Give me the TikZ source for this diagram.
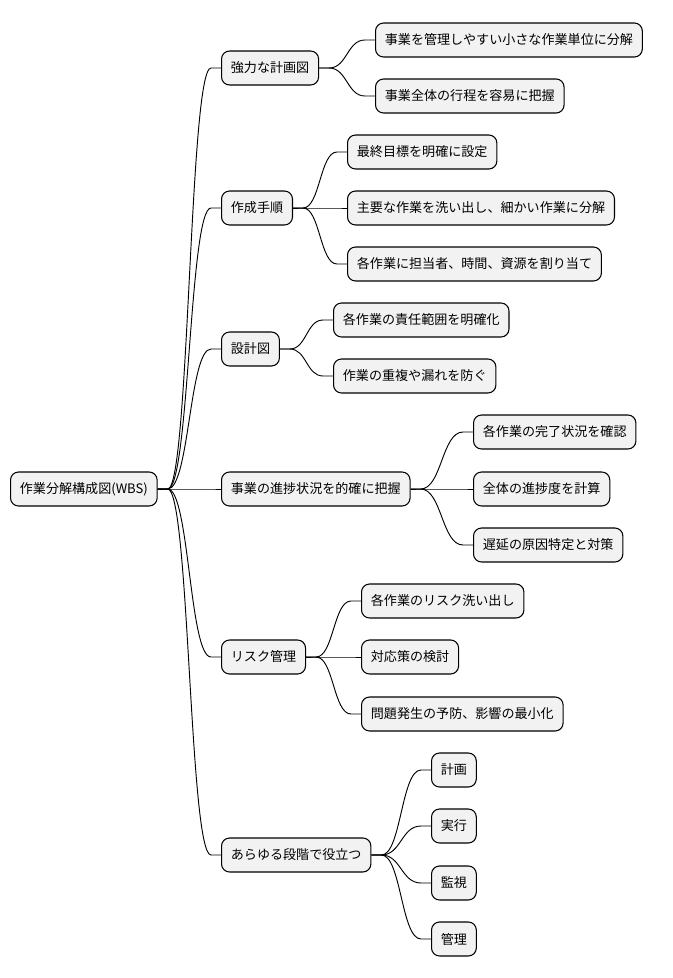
\documentclass[tikz,border=0pt]{standalone}
\usepackage{fontspec}
\setmainfont{Noto Sans CJK JP}
\usetikzlibrary{calc}
\begin{document}
\begin{tikzpicture}[x=0.75pt,y=-0.75pt,
  box/.style={draw=black,fill=black!5,rounded corners=6pt,line width=0.8pt,anchor=west,
    inner xsep=7pt,minimum height=25.5pt,font=\fontsize{9.8pt}{12pt}\selectfont},
  lk/.style={line width=0.7pt}]
\useasboundingbox (0,0) rectangle (672,978);
\node[box] (r) at (10,489) {作業分解構成図(WBS)};
\node[box] (a) at (221,68) {強力な計画図};
\node[box] (b) at (221,208) {作成手順};
\node[box] (c) at (221,349) {設計図};
\node[box] (d) at (221,489) {事業の進捗状況を的確に把握};
\node[box] (e) at (221,657) {リスク管理};
\node[box] (f) at (221,855) {あらゆる段階で役立つ};
\node[box] (a1) at (375,40) {事業を管理しやすい小さな作業単位に分解};
\node[box] (a2) at (375,96) {事業全体の行程を容易に把握};
\node[box] (b1) at (347,152) {最終目標を明確に設定};
\node[box] (b2) at (347,208) {主要な作業を洗い出し、細かい作業に分解};
\node[box] (b3) at (347,264) {各作業に担当者、時間、資源を割り当て};
\node[box] (c1) at (333,320) {各作業の責任範囲を明確化};
\node[box] (c2) at (333,376) {作業の重複や漏れを防ぐ};
\node[box] (d1) at (473,432) {各作業の完了状況を確認};
\node[box] (d2) at (473,489) {全体の進捗度を計算};
\node[box] (d3) at (473,545) {遅延の原因特定と対策};
\node[box] (e1) at (361,601) {各作業のリスク洗い出し};
\node[box] (e2) at (361,657) {対応策の検討};
\node[box] (e3) at (361,714) {問題発生の予防、影響の最小化};
\node[box] (f1) at (431,770) {計画};
\node[box] (f2) at (431,826) {実行};
\node[box] (f3) at (431,883) {監視};
\node[box] (f4) at (431,939) {管理};
\foreach \p/\q in {r/a,r/b,r/c,r/d,r/e,r/f,a/a1,a/a2,b/b1,b/b2,b/b3,c/c1,c/c2,d/d1,d/d2,d/d3,e/e1,e/e2,e/e3,f/f1,f/f2,f/f3,f/f4}{
  \coordinate (s) at ($(\p.east)+(10,0)$);
  \coordinate (t) at ($(\q.west)+(-10,0)$);
  \coordinate (m1) at ($(s)!0.5!(t)$);
  \draw[lk] (\p.east) -- (s) .. controls (m1|-s) and (m1|-t) .. (t) -- (\q.west);
}
\end{tikzpicture}
\end{document}
